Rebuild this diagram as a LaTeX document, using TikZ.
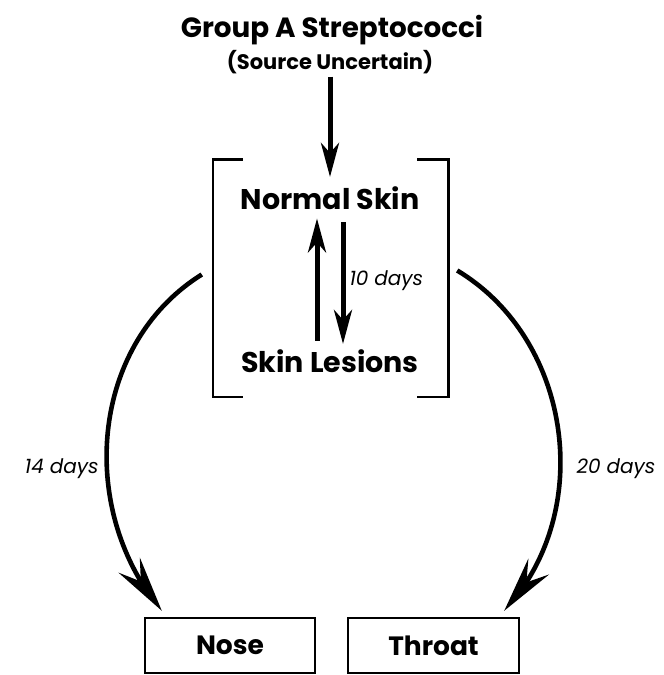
\documentclass[tikz,border=0pt]{standalone}
\usepackage{fontspec}
\setmainfont{Poppins}
\usetikzlibrary{arrows.meta, positioning, bending}
\tikzset{
    heading/.style={anchor=base, font=\bfseries\fontsize{27.8}{32}\selectfont, inner sep=2pt},
    note/.style={anchor=base, font=\bfseries\fontsize{21}{25}\selectfont, inner sep=2pt},
    state/.style={anchor=base, font=\bfseries\fontsize{28.5}{32}\selectfont, inner sep=3pt},
    site/.style={
        rectangle, draw, line width=2.4pt,
        minimum width=170pt, minimum height=55pt,
        font=\bfseries\fontsize{26.5}{30}\selectfont
    },
    days/.style={font=\itshape\fontsize{20}{24}\selectfont, inner sep=4pt},
    arrow/.style={-{Stealth[length=34pt, width=18pt, inset=10pt]}, line width=5pt},
    bigarrow/.style={-{Stealth[length=56pt, width=26pt, inset=20pt]}, line width=4.6pt},
    bracket/.style={line width=2.6pt}
}

\begin{document}
\begin{tikzpicture}[x=1pt, y=1pt]
    \clip (0,0) rectangle (664,675);
    \node[heading] (src) at (332,637) {Group A Streptococci};
    \node[note] (srcnote) at (330,605) {(Source Uncertain)};
    \node[state] (normal) at (330,465) {Normal Skin};
    \node[state] (lesions) at (330,302) {Skin Lesions};
    \node[minimum width=235pt, minimum height=237pt, inner sep=0pt] (skin) at (330.5,396.5) {};
    \node[site] (nose) at (230,29.5) {Nose};
    \node[site, minimum width=171pt] (throat) at (433.5,29.5) {Throat};

    % brackets round the skin cycle
    \draw[bracket] ([xshift=30pt]skin.north west) -- (skin.north west)
        -- (skin.south west) -- ([xshift=30pt]skin.south west);
    \draw[bracket] ([xshift=-31pt]skin.north east) -- (skin.north east)
        -- (skin.south east) -- ([xshift=-31pt]skin.south east);

    \draw[arrow, shorten >=7pt] (srcnote) -- (normal);
    \draw[arrow, shorten <=6pt, shorten >=5pt] ([xshift=-13pt]lesions.north) -- ([xshift=-13pt]normal.south);
    \draw[arrow, shorten <=9pt, shorten >=3pt] ([xshift=13pt]normal.south) -- ([xshift=13pt]lesions.north)
        node[days, midway, right] {10 days};

    \draw[bigarrow] ([xshift=-11pt, yshift=4pt]skin.west) to[out=212, in=130]
        node[days, pos=0.6, left=2pt] {14 days} ([xshift=18pt, yshift=6pt]nose.north west);
    \draw[bigarrow] ([xshift=9pt, yshift=8pt]skin.east) to[out=-31, in=47]
        node[days, pos=0.6, right=10pt] {20 days} ([xshift=-16pt, yshift=6pt]throat.north east);
\end{tikzpicture}
\end{document}
